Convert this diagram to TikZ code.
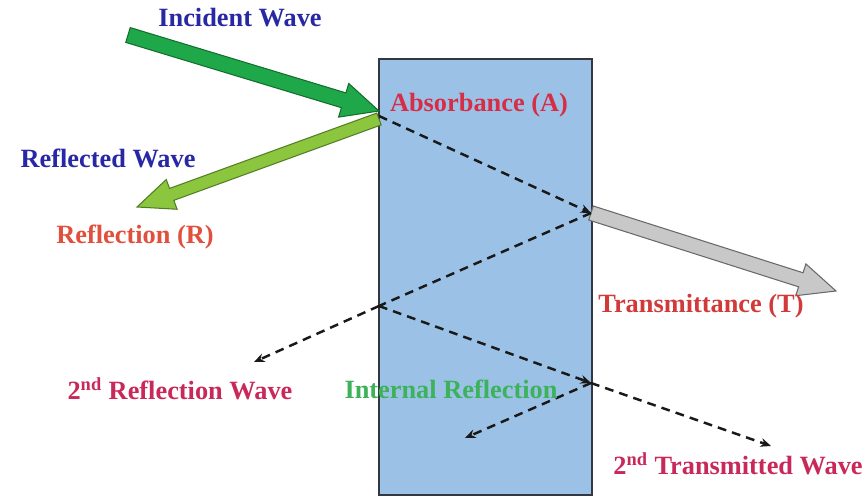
\documentclass[tikz,border=0pt]{standalone}
\usepackage{fontspec}
\setmainfont{Liberation Serif}
\usetikzlibrary{calc,arrows.meta}
\definecolor{slab}{RGB}{155,194,230}
\definecolor{slabedge}{RGB}{50,55,65}
\definecolor{incfill}{RGB}{31,168,74}
\definecolor{incedge}{RGB}{20,110,45}
\definecolor{reffill}{RGB}{140,198,63}
\definecolor{refedge}{RGB}{80,125,35}
\definecolor{trfill}{RGB}{200,200,200}
\definecolor{tredge}{RGB}{105,105,105}
\definecolor{bluetxt}{RGB}{40,40,165}
\definecolor{abstxt}{RGB}{215,45,70}
\definecolor{rtxt}{RGB}{225,80,60}
\definecolor{ttxt}{RGB}{210,58,58}
\definecolor{sectxt}{RGB}{200,40,90}
\definecolor{inttxt}{RGB}{60,178,90}
\tikzset{
  lbl/.style={font=\fontsize{15}{17}\selectfont\bfseries, inner sep=0pt},
  ray/.style={draw=black!90, dash pattern=on 5pt off 3.5pt, line width=1.4pt, -{Stealth[length=6pt,width=5pt]}},
  rayplain/.style={draw=black!90, dash pattern=on 5pt off 3.5pt, line width=1.4pt},
}
% block arrow: #1 start, #2 tip, #3 fill, #4 edge, #5 shaft half width (pt), #6 head half width (pt), #7 head length (pt)
\newcommand\blockarrow[7]{%
  \path let \p1=($(#2)-(#1)$), \n1={atan2(\y1,\x1)}, \n2={veclen(\x1,\y1)} in
    [shift={(#1)}, rotate=\n1, fill=#3, draw=#4, line width=0.6pt, line join=miter]
    (0pt,-#5pt) -- ({\n2-#7pt},-#5pt) -- ({\n2-#7pt},-#6pt) -- (\n2,0pt)
    -- ({\n2-#7pt},#6pt) -- ({\n2-#7pt},#5pt) -- (0pt,#5pt) -- cycle;}
\begin{document}
\begin{tikzpicture}[x=0.02cm,y=-0.02cm]
\useasboundingbox (0,0) rectangle (863,497);
% slab
\node[draw=slabedge, fill=slab, line width=1.3pt, minimum width=213*0.02cm, minimum height=436*0.02cm, anchor=north west, inner sep=0pt] (slab) at (378,58) {};
% key points
\coordinate (A1) at (379,116);
\coordinate (B1) at (591,213);
\coordinate (A2) at (379,306);
\coordinate (B2) at (591,383);
\coordinate (E1) at (254,362);
\coordinate (E2) at (771,446);
\coordinate (E3) at (465,438);
\coordinate (incS) at (128,35);
\coordinate (incT) at (379,111);
\coordinate (refS) at (379,119);
\coordinate (refT) at (137,207);
\coordinate (trS) at (591,213);
\coordinate (trT) at (836,291);
% block arrows
\blockarrow{incS}{incT}{incfill}{incedge}{4.4}{10}{21}
\blockarrow{refS}{refT}{reffill}{refedge}{3.6}{9}{21}
\blockarrow{trS}{trT}{trfill}{tredge}{4.2}{9.5}{21}
% dashed rays
\draw[ray] (A1) -- (B1);
\draw[rayplain] (B1) -- (A2);
\draw[ray] (A2) -- (E1);
\draw[ray] (A2) -- (B2);
\draw[ray] (B2) -- (E2);
\draw[ray] (B2) -- (E3);
% labels
\node[lbl, text=bluetxt] (tInc) at (240,18) {Incident Wave};
\node[lbl, text=abstxt] (tAbs) at (479,105) {Absorbance (A)};
\node[lbl, text=bluetxt] (tRefW) at (108,158) {Reflected Wave};
\node[lbl, text=rtxt] (tR) at (135,237) {Reflection (R)};
\node[lbl, text=ttxt] (tT) at (701,306) {Transmittance (T)};
\node[lbl, text=sectxt] (t2R) at (180,389) {2\textsuperscript{nd} Reflection Wave};
\node[lbl, text=inttxt] (tInt) at (451,389) {Internal Reflection};
\node[lbl, text=sectxt] (t2T) at (738,464) {2\textsuperscript{nd} Transmitted Wave};
\end{tikzpicture}
\end{document}
